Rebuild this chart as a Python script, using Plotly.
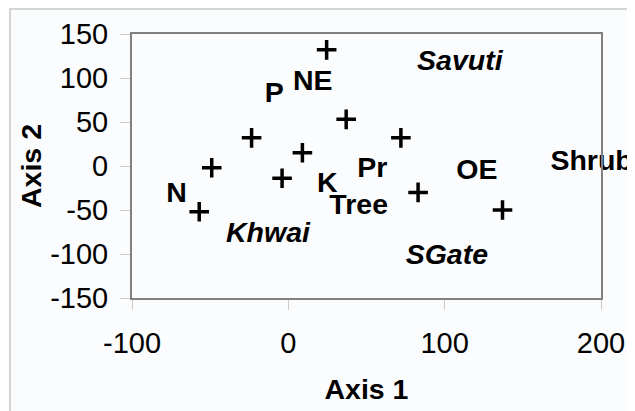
import plotly.graph_objects as go

# Sample points (plus markers)
pt_x = [-57, -49, -23.5, -4, 9, 24.5, 37, 72, 83, 137]
pt_y = [-52, -2, 32, -14, 15, 132, 53, 32, -30, -50]

# Text labels
lab_text = ["N", "P", "NE", "<i>Savuti</i>", "<i>Khwai</i>", "K", "Tree", "Pr", "OE", "Shrub", "<i>SGate</i>"]
lab_x = [-71.5, -9, 15.6, 109.7, -13, 25, 45, 53.7, 120.6, 194, 101.4]
lab_y = [-33, 81, 94, 117, -78, -21.6, -46.6, -4.5, -6.8, 3.4, -103]

x_ticks = [-100, 0, 100, 200]
x_ticktext = ["-100", "0", "100", "200"]
y_ticks = [-150, -100, -50, 0, 50, 100, 150]
y_ticktext = ["-150", "-100", "-50", "0", "50", "100", "150"]
x_title = "Axis 1"
y_title = "Axis 2"

FONT = "Arial, Liberation Sans, sans-serif"

fig = go.Figure()
fig.add_trace(go.Scatter(
    x=pt_x, y=pt_y, mode="markers",
    marker=dict(symbol="cross-thin", size=14, line=dict(width=3.5, color="black")),
    showlegend=False, hoverinfo="skip"))
fig.add_trace(go.Scatter(
    x=lab_x, y=lab_y, mode="text", text=["<b>%s</b>" % t for t in lab_text],
    textfont=dict(family=FONT, size=28.5, color="black"),
    textposition="middle center", cliponaxis=False,
    showlegend=False, hoverinfo="skip"))

axcommon = dict(showgrid=False, zeroline=False, showline=True, mirror=True,
                linecolor="#808080", linewidth=2, ticks="outside", ticklen=10,
                tickcolor="#cccccc", tickwidth=1, automargin=False,
                tickfont=dict(family=FONT, size=29, color="black"))

# page body has an 8px margin, so the figure is sized/offset to compensate
fig.update_layout(
    width=627, height=403,
    margin=dict(l=124, r=34, t=26, b=113),
    paper_bgcolor="#fbfcfd", plot_bgcolor="#fbfcfd",
    xaxis=dict(range=[-100, 200], tickvals=x_ticks, ticktext=x_ticktext, ticklabelstandoff=8,
               title=dict(text="<b>%s</b>" % x_title, font=dict(family=FONT, size=28.5, color="black"), standoff=21),
               **axcommon),
    yaxis=dict(range=[-150, 150], tickvals=y_ticks, ticktext=y_ticktext, ticklabelstandoff=6,
               title=dict(text="<b>%s</b>" % y_title, font=dict(family=FONT, size=28.5, color="black"), standoff=0),
               **axcommon),
    xaxis2=dict(range=[-100, 200], tickvals=x_ticks, overlaying="x", anchor="y", side="bottom",
                showgrid=False, zeroline=False, showline=False, showticklabels=False,
                ticks="inside", ticklen=9, tickcolor="#cccccc", tickwidth=1),
    yaxis2=dict(range=[-150, 150], tickvals=y_ticks, overlaying="y", anchor="x", side="left",
                showgrid=False, zeroline=False, showline=False, showticklabels=False,
                ticks="inside", ticklen=9, tickcolor="#cccccc", tickwidth=1),
    shapes=[dict(type="rect", xref="paper", yref="paper",
                 x0=-0.26, x1=1.2, y0=-0.6, y1=1.095,
                 line=dict(color="#c8c8c8", width=1.5), fillcolor="rgba(0,0,0,0)", layer="above")],
)

fig.write_html("out.html")
